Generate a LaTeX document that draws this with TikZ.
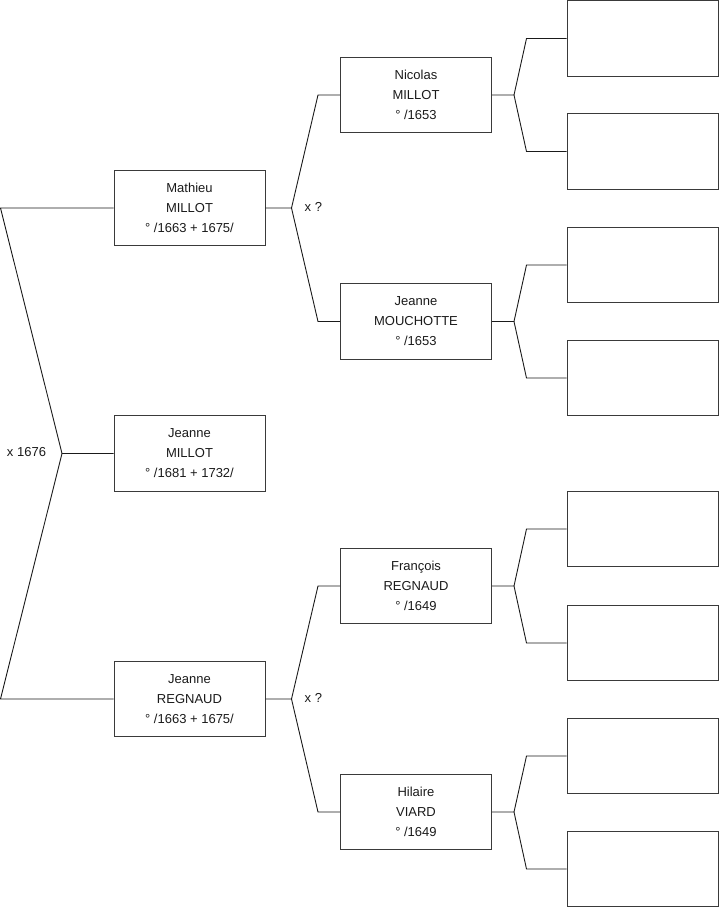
\documentclass[tikz,border=0pt]{standalone}
\usepackage{fontspec}
\setmainfont{Liberation Sans}
\usetikzlibrary{positioning, calc}
\definecolor{treeInk}{HTML}{1A1A1A}
\definecolor{boxInk}{HTML}{3A3A3A}

\begin{document}
\begin{tikzpicture}[x=1pt, y=-1pt,
    person/.style={draw=boxInk, line width=1pt, minimum width=151pt, minimum height=75.5pt,
      inner sep=0pt, align=center, font=\fontsize{13}{20}\selectfont, text=treeInk},
    link/.style={draw=treeInk, line width=0.9pt},
    union/.style={font=\fontsize{13}{16}\selectfont, text=treeInk, inner sep=0pt}]
  \useasboundingbox (0,0) rectangle (719,908);

  % subject
  \node[person] (jeanneMillot) at (189.5,453.5) {Jeanne\\MILLOT\\° /1681 + 1732/};
  % parents
  \node[person] (mathieu) at (189.5,208) {Mathieu\\MILLOT\\° /1663 + 1675/};
  \node[person] (jeanneRegnaud) at (189.5,699) {Jeanne\\REGNAUD\\° /1663 + 1675/};
  % grandparents
  \node[person] (nicolas) at (416,95) {Nicolas\\MILLOT\\° /1653};
  \node[person] (mouchotte) at (416,321.5) {Jeanne\\MOUCHOTTE\\° /1653};
  \node[person] (francois) at (416,586) {François\\REGNAUD\\° /1649};
  \node[person] (hilaire) at (416,812) {Hilaire\\VIARD\\° /1649};
  % great-grandparents, empty
  \foreach \n/\y in {a/38.5, b/151.5, c/265, d/378, e/529, f/643, g/756, h/869}
    \node[person] (gg\n) at (642.5,\y) {};

  % subject to parents
  \coordinate (fork1) at (62,453.5);
  \draw[link] (jeanneMillot.west) -- (fork1) -- ($(mathieu.west)+(-113,0)$) -- (mathieu.west);
  \draw[link] (fork1) -- ($(jeanneRegnaud.west)+(-113,0)$) -- (jeanneRegnaud.west);
  \node[union] (marriage1) at (26.5,452) {x 1676};

  % parents to grandparents
  \foreach \p/\u/\d in {mathieu/nicolas/mouchotte, jeanneRegnaud/francois/hilaire} {
    \coordinate (fork\p) at ($(\p.east)+(26,0)$);
    \draw[link] (\p.east) -- (fork\p) -- ($(\u.west)+(-22,0)$) -- (\u.west);
    \draw[link] (fork\p) -- ($(\d.west)+(-22,0)$) -- (\d.west);
    \node[union, anchor=west] (marriage\p) at ($(fork\p)+(13,-1)$) {x ?};
  }

  % grandparents to great-grandparents
  \foreach \p/\u/\d in {nicolas/a/b, mouchotte/c/d, francois/e/f, hilaire/g/h} {
    \coordinate (fork\p) at ($(\p.east)+(22,0)$);
    \draw[link] (\p.east) -- (fork\p) -- ($(gg\u.west)+(-40,0)$) -- (gg\u.west);
    \draw[link] (fork\p) -- ($(gg\d.west)+(-40,0)$) -- (gg\d.west);
  }
\end{tikzpicture}
\end{document}
